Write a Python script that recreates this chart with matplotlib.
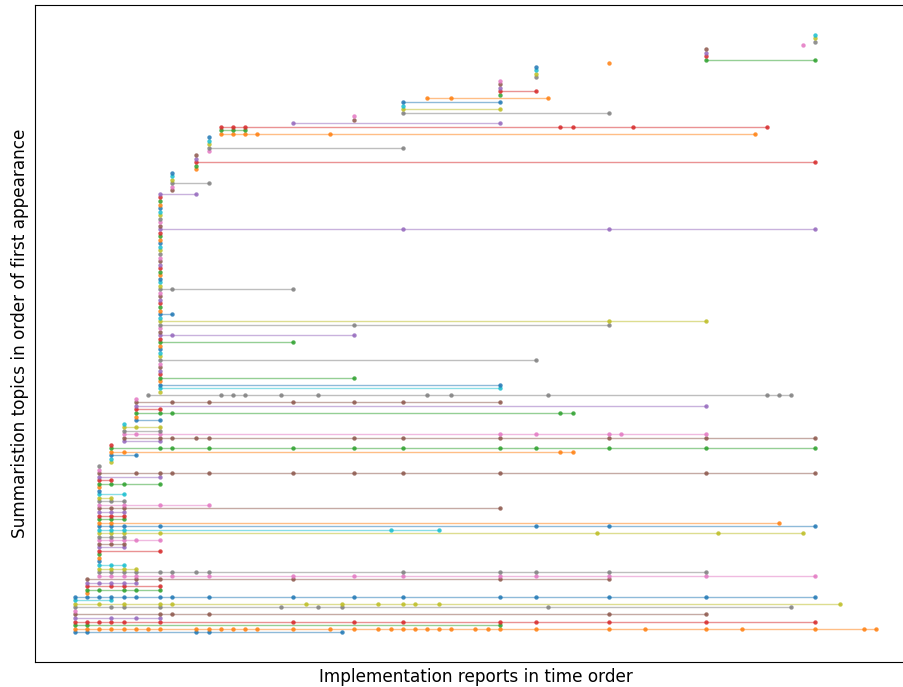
import matplotlib.pyplot as plt

# Each topic is the list of report indices (in time order) where it shows up.
# Topics are grouped by the report in which they first appear.
from_report_0 = [
    [0, 1, 10, 11, 22],
    [0, 1, 2, 3, 4, 5, 6, 7, 10, 11, 12, 13, 14, 15, 18, 21, 23, 25, 26, 27,
     28, 29, 30, 31, 33, 34, 35, 38, 44, 47, 52, 55, 61, 65, 66],
    [0, 1, 35],
    [0, 1, 2, 3, 4, 7, 18, 23, 27, 35, 38, 44, 52, 61],
    [0, 3, 5, 7],
    [0, 7, 8, 11, 44, 52],
    [0],
    [0, 3, 4, 7, 17, 20, 22, 39, 59],
    [0, 2, 4, 7, 8, 19, 22, 25, 27, 28, 30, 63],
    [0, 3],
    [0, 1, 2, 3, 4, 5, 7, 8, 11, 18, 23, 27, 35, 38, 44, 52, 61],
]
from_report_1 = [
    [1],
    [1, 2, 4, 5, 7],
    [1, 3, 4, 7],
    [1, 2, 3, 4, 5],
    [1, 5, 7, 18, 35, 44],
]
from_report_2 = [
    [2, 3, 4, 5, 8, 11, 18, 23, 27, 35, 38, 44, 52, 61],
    [2, 3, 4, 5, 7, 8, 10, 11, 27, 35, 38, 44, 52],
    [2, 3, 4, 5],
    [2, 3, 4],
    [2],
    [2],
    [2],
    [2, 7],
    [2, 4],
    [2, 3, 4],
    [2, 3, 4, 5, 7],
    [2, 3, 4],
    [2, 3, 4, 7, 43, 53, 60],
    [2, 3, 4, 26, 30],
    [2, 3, 4, 7, 38, 44, 61],
    [2, 3, 58],
    [2, 3, 4],
    [2, 3, 4],
    [2, 3, 4],
    [2, 3, 4, 35],
    [2, 4, 7, 11],
    [2, 3, 4],
    [2, 3],
    [2, 4],
    [2],
    [2],
    [2, 3, 4, 7],
    [2, 3],
    [2, 7],
    [2, 5, 7, 8, 11, 18, 23, 27, 35, 52, 61],
    [2],
    [2],
]
from_report_3 = [
    [3],
    [3],
    [3, 5],
    [3, 4, 40, 41],
    [3, 7, 8, 11, 18, 23, 27, 35, 38, 44, 52, 61],
    [3],
]
from_report_4 = [
    [4, 7],
    [4, 7, 8, 10, 11, 23, 27, 35, 44, 52, 61],
    [4, 5, 7, 35, 38, 44, 45, 52],
    [4, 7],
    [4, 5, 7],
    [4],
]
from_report_5 = [
    [5, 7],
    [5],
    [5, 7, 8, 40, 41],
    [5, 7],
    [5, 52],
    [5, 8, 11, 18, 23, 27, 35],
    [5],
]
from_report_6 = [
    [6, 12, 13, 14, 17, 20, 29, 31, 39, 57, 58, 59],
]
from_report_7 = [
    [7], [7, 35], [7, 35], [7], [7, 23], [7], [7], [7], [7], [7, 38],
    [7], [7], [7], [7], [7, 18], [7], [7, 8, 23], [7], [7], [7, 23, 44],
    [7, 44, 52], [7], [7, 8], [7], [7], [7], [7], [7], [7], [7, 8, 18],
    [7], [7], [7], [7], [7], [7], [7], [7], [7], [7],
    [7], [7], [7], [7], [7], [7], [7, 27, 44, 61], [7], [7], [7],
    [7], [7], [7], [7], [7], [7], [7, 10],
]
from_report_8 = [[8], [8], [8, 11], [8], [8], [8]]
from_report_10 = [[10], [10], [10, 61], [10], [10]]
from_report_11 = [[11], [11, 27], [11], [11], [11]]
from_report_12 = [
    [12, 13, 14, 15, 21, 56],
    [12, 13, 14],
    [12, 13, 14, 40, 41, 46, 57],
]
from_report_18 = [[18, 35]]
from_report_23 = [[23], [23]]
from_report_27 = [[27, 44], [27, 35], [27], [27, 35]]
from_report_29 = [[29, 31, 39]]
from_report_35 = [[35], [35, 38], [35], [35], [35]]
from_report_38 = [[38], [38], [38], [38]]
from_report_44 = [[44]]
from_report_52 = [[52, 61], [52], [52], [52]]
from_report_60 = [[60]]
from_report_61 = [[61], [61], [61]]

topics = (from_report_0 + from_report_1 + from_report_2 + from_report_3
          + from_report_4 + from_report_5 + from_report_6 + from_report_7
          + from_report_8 + from_report_10 + from_report_11 + from_report_12
          + from_report_18 + from_report_23 + from_report_27 + from_report_29
          + from_report_35 + from_report_38 + from_report_44 + from_report_52
          + from_report_60 + from_report_61)

colors = plt.rcParams["axes.prop_cycle"].by_key()["color"]

fig = plt.figure(figsize=(9.04, 6.87), dpi=100)
ax = fig.add_axes([35 / 904, 1 - 662 / 687, 881 / 904, 657 / 687])

# One row per topic: a faint line from first to last appearance, a dot per report
for i, reports in enumerate(topics):
    c = colors[i % len(colors)]
    ax.plot([reports[0], reports[-1]], [i, i], color=c, alpha=0.5, linewidth=1)
    ax.scatter(reports, [i] * len(reports), color=c, s=10, alpha=0.85,
               linewidths=0, zorder=3)

ax.set_xticks([])
ax.set_yticks([])
ax.set_xlabel("Implementation reports in time order", fontsize=12.2)
ax.set_ylabel("Summaristion topics in order of first appearance", fontsize=12.2)

fig.savefig("out.png", dpi=100)
